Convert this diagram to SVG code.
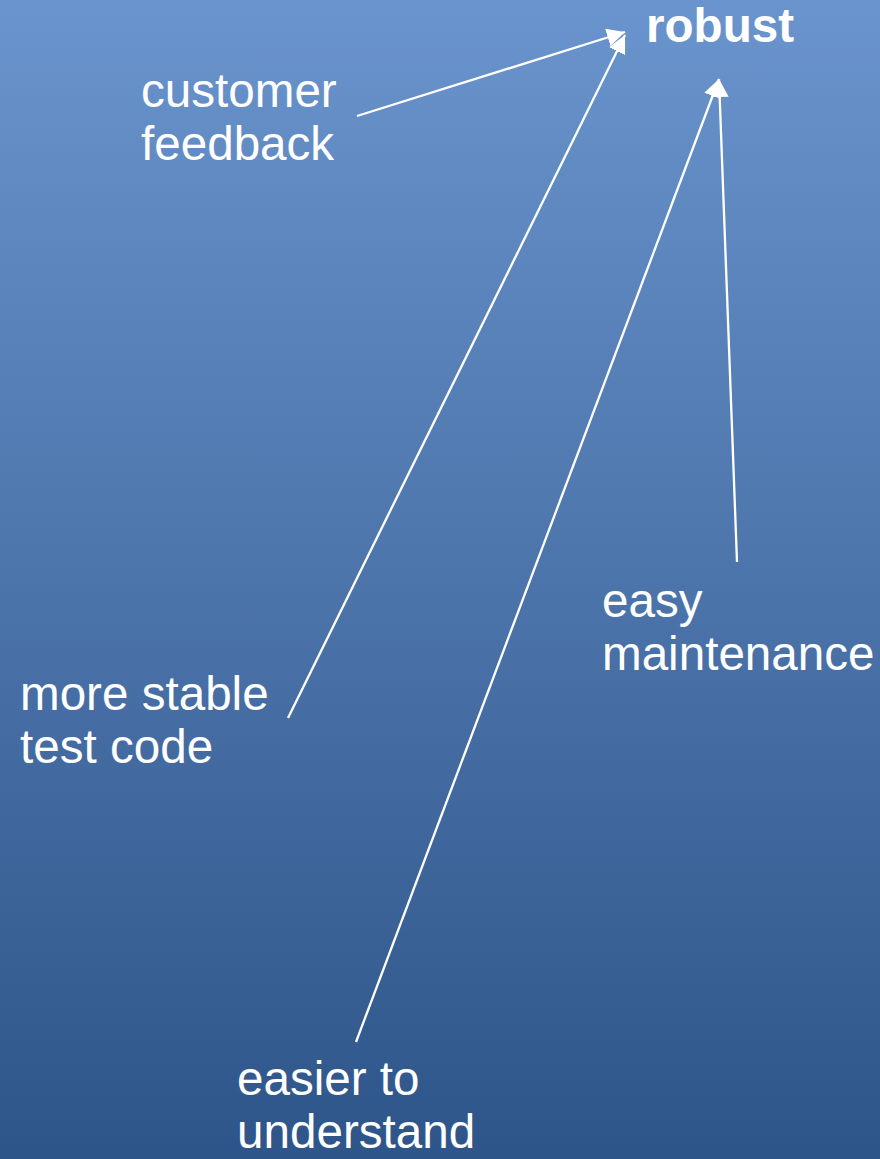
<svg xmlns="http://www.w3.org/2000/svg" width="880" height="1159" viewBox="0 0 880 1159">
<defs>
<linearGradient id="bg" x1="0" y1="0" x2="0" y2="1">
<stop offset="0" stop-color="#6a94cd"/>
<stop offset="1" stop-color="#2e5589"/>
</linearGradient>
<marker id="ah" markerUnits="userSpaceOnUse" markerWidth="19" markerHeight="18" refX="18" refY="9" orient="auto">
<path d="M0,0 L18,9 L0,18 z" fill="#ffffff"/>
</marker>
<style>
.t{font-family:"Liberation Sans",Arial,sans-serif;font-size:47.6px;fill:#ffffff}
.b{font-weight:bold}
.c{stroke:#ffffff;stroke-width:2.3;fill:none;marker-end:url(#ah)}
</style>
</defs>
<rect width="880" height="1159" fill="url(#bg)"/>
<g id="connectors">
<line class="c" x1="357" y1="116" x2="625" y2="32"/>
<line class="c" x1="288" y1="718" x2="625" y2="35"/>
<line class="c" x1="356" y1="1042" x2="719" y2="79"/>
<line class="c" x1="737" y1="562" x2="719" y2="79"/>
</g>
<g id="robust"><text class="t b" x="646" y="42">robust</text></g>
<g id="customer-feedback"><text class="t" x="141" y="107">customer</text><text class="t" x="141" y="160">feedback</text></g>
<g id="more-stable"><text class="t" x="20" y="710">more stable</text><text class="t" x="20" y="763">test code</text></g>
<g id="easy-maintenance"><text class="t" x="602" y="617">easy</text><text class="t" x="602" y="670">maintenance</text></g>
<g id="easier-to-understand"><text class="t" x="237" y="1095">easier to</text><text class="t" x="237" y="1148">understand</text></g>
</svg>
